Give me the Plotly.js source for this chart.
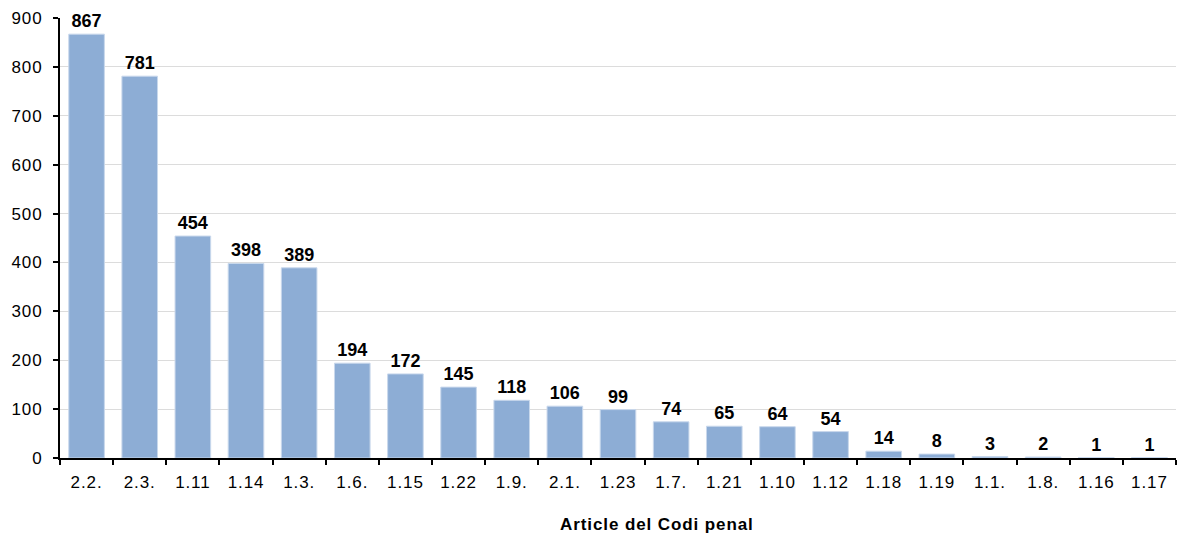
<!DOCTYPE html>
<html><head><meta charset="utf-8">
<script src="https://cdn.plot.ly/plotly-3.0.1.min.js"></script>
<style>html,body{margin:0;padding:0;background:#fff}
#chart .xtick text, #chart .ytick text {letter-spacing: 0.9px}
#chart .annotation-text {letter-spacing: 0.9px}
</style>
</head><body>
<div id="chart" style="width:1178px;height:538px"></div>
<script>
const categories = ["2.2.","2.3.","1.11","1.14","1.3.","1.6.","1.15","1.22","1.9.","2.1.","1.23","1.7.","1.21","1.10","1.12","1.18","1.19","1.1.","1.8.","1.16","1.17"];
const values = [867,781,454,398,389,194,172,145,118,106,99,74,65,64,54,14,8,3,2,1,1];
const yTicks = [0,100,200,300,400,500,600,700,800,900];
const xTitle = 'Article del Codi penal';

const trace = {
  type: 'bar', x: categories, y: values,
  marker: {color: '#8DADD5', line: {color: '#C9D8EC', width: 1}},
  text: values.map(String), textposition: 'outside', cliponaxis: false,
  textfont: {family: 'Liberation Sans, Arial, sans-serif', size: 18, color: '#000', weight: 'bold'},
  texttemplate: '<b>%{text}</b>',
  hoverinfo: 'none'
};
const layout = {
  width: 1178, height: 538,
  margin: {l: 60, r: 2, t: 18, b: 80},
  paper_bgcolor: '#fff', plot_bgcolor: '#fff',
  bargap: 0.33,
  showlegend: false,
  font: {family: 'Liberation Sans, Arial, sans-serif', color: '#000'},
  xaxis: {
    type: 'category', tickfont: {size: 17}, showline: true, linecolor: '#000', linewidth: 2,
    ticks: 'outside', tickson: 'boundaries', ticklen: 5, tickcolor: '#000', tickwidth: 2,
    ticklabelstandoff: 8,
    showgrid: false
  },
  yaxis: {
    range: [0, 900], tickvals: yTicks, ticktext: yTicks.map(String), tickfont: {size: 17},
    showline: true, linecolor: '#000', linewidth: 2, ticks: 'outside', ticklen: 5, tickcolor: '#000', tickwidth: 2,
    ticklabelstandoff: 7,
    gridcolor: '#DCDCDC', gridwidth: 1, zeroline: false
  },
  annotations: [{
    text: '<b>' + xTitle + '</b>', xref: 'paper', yref: 'paper', x: 0.535, y: -0.152,
    xanchor: 'center', yanchor: 'middle', showarrow: false, font: {size: 17, color: '#000'}
  }]
};
Plotly.newPlot('chart', [trace], layout, {displayModeBar: false, staticPlot: true});
</script>
</body></html>
